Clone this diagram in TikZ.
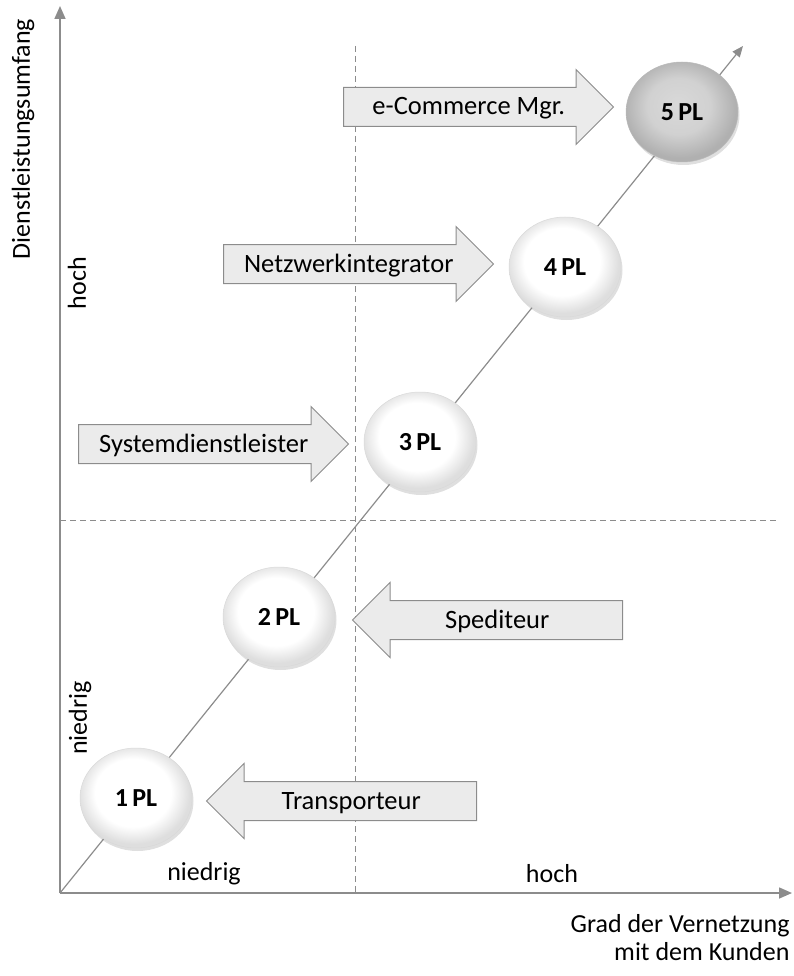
\documentclass[tikz,border=0pt]{standalone}
\usepackage{fontspec}
\setmainfont{Carlito}
\usetikzlibrary{shapes.geometric, shapes.arrows, arrows.meta, shadows}
\definecolor{axisgray}{HTML}{8C8C8C}
\definecolor{arrowfill}{HTML}{EBEBEB}
\pgfdeclareradialshading{whiteball}{\pgfpoint{-2bp}{4bp}}{color(0bp)=(white); color(17bp)=(white); color(25bp)=(gray!26); color(50bp)=(gray!26)}
\pgfdeclareradialshading{grayball}{\pgfpoint{-2bp}{4bp}}{color(0bp)=(gray!30); color(14bp)=(gray!36); color(25bp)=(gray!62); color(50bp)=(gray!62)}
\tikzstyle{axis} = [draw=axisgray, line width=1.6pt, -{Triangle[length=13pt, width=11pt]}]
\tikzstyle{diag} = [draw=axisgray, line width=1.2pt, -{Triangle[length=11pt, width=9pt]}]
\tikzstyle{grid} = [draw=axisgray, line width=1pt, dash pattern=on 6pt off 4pt]
\tikzstyle{plnode} = [ellipse, minimum width=112pt, minimum height=100pt,
                      draw=gray!30, line width=0.5pt, shading=whiteball,
                      drop shadow={shadow xshift=1.5pt, shadow yshift=-3pt, opacity=0.25},
                      font=\fontsize{26}{30}\selectfont\bfseries]
\tikzstyle{blockarrow} = [single arrow, minimum height=270pt, single arrow head extend=18pt,
                          inner ysep=7pt, text height=20pt, text depth=4pt,
                          draw=axisgray, line width=1pt, fill=arrowfill,
                          font=\fontsize{26.5}{30}\selectfont]
\tikzstyle{label} = [font=\fontsize{26}{28}\selectfont]

\begin{document}
\begin{tikzpicture}[x=1pt, y=-1pt]
    \useasboundingbox (0,0) rectangle (793,976);

    % Axes
    \coordinate (origin) at (60,893);
    \coordinate (ytop) at (60,6);
    \coordinate (xend) at (792,893);
    \coordinate (diagend) at (743,46);
    \coordinate (vtop) at (355,46);
    \coordinate (vbot) at (355,893);
    \coordinate (hleft) at (60,520);
    \coordinate (hright) at (776,520);
    \draw[grid] (vtop) -- (vbot);
    \draw[grid] (hleft) -- (hright);
    \draw[axis] (origin) -- (ytop);
    \draw[axis] (origin) -- (xend);
    \draw[diag] (origin) -- (diagend);

    % Block arrows
    \node[blockarrow, anchor=tail] (ecom) at (343,107) {e-Commerce Mgr.};
    \node[blockarrow, anchor=tail] (netz) at (223,264) {Netzwerkintegrator};
    \node[blockarrow, anchor=tail] (sys) at (78,444) {Systemdienstleister};
    \node[blockarrow, shape border rotate=180, anchor=tail] (sped) at (623,620) {Spediteur};
    \node[blockarrow, shape border rotate=180, anchor=tail] (trans) at (477,801) {Transporteur};

    % Stages
    \node[plnode] (pl1) at (136,798) {1\,PL};
    \node[plnode] (pl2) at (279,617) {2\,PL};
    \node[plnode] (pl3) at (420,442) {3\,PL};
    \node[plnode] (pl4) at (565,267) {4\,PL};
    \node[plnode, shading=grayball, draw=gray!55] (pl5) at (682,112) {5\,PL};

    % Labels
    \node[label, rotate=90] (ytitle) at (23,139) {Dienstleistungsumfang};
    \node[label, rotate=90] (yhigh) at (77,283) {hoch};
    \node[label, rotate=90] (ylow) at (80,718) {niedrig};
    \node[label] (xlow) at (204,874) {niedrig};
    \node[label] (xhigh) at (552,874) {hoch};
    \node[label, align=right, anchor=north east] (xtitle) at (793,911) {Grad der Vernetzung\\mit dem Kunden};
\end{tikzpicture}
\end{document}
